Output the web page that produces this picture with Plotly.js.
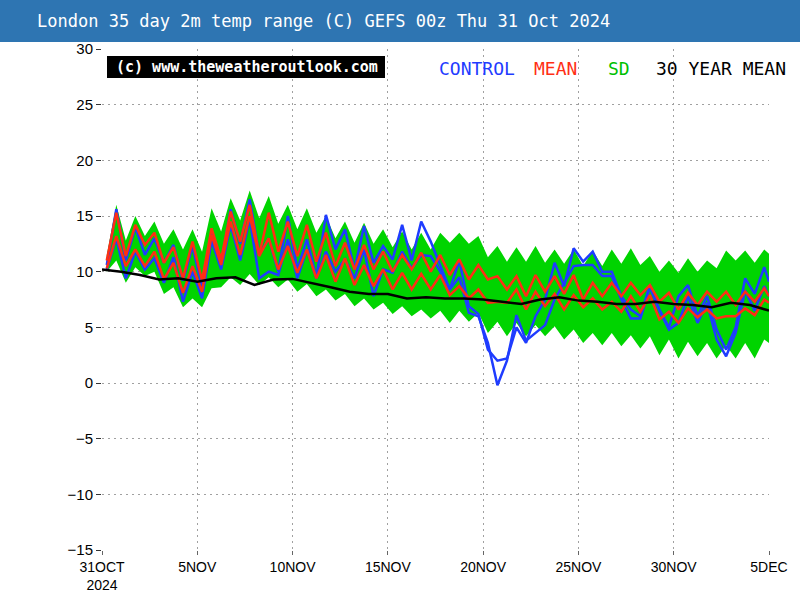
<!DOCTYPE html>
<html><head><meta charset="utf-8">
<script src="https://cdn.plot.ly/plotly-3.0.1.min.js"></script>
<style>html,body{margin:0;padding:0;background:#fff}#chart{width:800px;height:600px}</style>
</head><body><div id="chart"></div>
<script>
// forecast time (days after 00z 31 Oct 2024), 12-hourly
const times = [0.25,0.75,1.25,1.75,2.25,2.75,3.25,3.75,4.25,4.75,
  5.25,5.75,6.25,6.75,7.25,7.75,8.25,8.75,9.25,9.75,
  10.25,10.75,11.25,11.75,12.25,12.75,13.25,13.75,14.25,14.75,
  15.25,15.75,16.25,16.75,17.25,17.75,18.25,18.75,19.25,19.75,
  20.25,20.75,21.25,21.75,22.25,22.75,23.25,23.75,24.25,24.75,
  25.25,25.75,26.25,26.75,27.25,27.75,28.25,28.75,29.25,29.75,
  30.25,30.75,31.25,31.75,32.25,32.75,33.25,33.75,34.25,34.75,35];

// SD envelope (upper / lower edge of the green band)
const sdUpper = [11.5,16.0,12.8,15.0,13.2,14.5,12.5,13.8,12.0,13.8,
  11.8,15.7,13.6,16.6,14.6,17.3,14.8,16.8,14.3,16.0,
  13.8,15.7,13.5,15.0,13.0,14.5,12.6,14.4,12.5,13.8,
  12.2,13.6,12.0,13.5,12.0,13.5,12.6,13.5,12.5,13.2,
  11.3,12.3,10.9,12.2,10.9,12.3,10.8,12.0,10.7,12.0,
  10.5,11.9,10.5,12.0,10.7,12.1,10.6,11.4,10.0,11.0,
  9.9,11.2,10.0,11.0,10.3,11.9,11.0,11.9,10.8,12.0,11.6];
const sdLower = [10.0,11.0,9.0,10.4,9.6,10.0,8.0,8.6,6.8,7.6,
  6.8,8.5,8.6,9.5,8.8,9.8,8.8,9.5,8.6,9.3,
  8.2,8.9,7.8,8.4,7.4,8.0,6.9,7.6,6.6,7.2,
  6.2,6.9,6.0,6.6,5.8,6.5,5.4,6.5,5.5,6.3,
  4.5,5.5,4.2,5.4,4.2,5.2,4.2,5.1,3.9,4.8,
  3.6,4.5,3.4,4.5,3.3,4.3,3.1,4.2,2.5,3.9,
  2.2,3.7,2.4,3.6,2.2,3.4,2.2,3.6,2.2,3.9,3.6];

// control run (two blue lines)
const controlHigh = [10.6,15.6,11.0,14.0,11.5,13.0,10.8,12.4,9.2,12.3,
  8.6,13.6,10.6,15.6,12.5,16.5,11.5,13.0,10.0,15.0,
  10.2,12.9,9.5,15.1,12.0,13.8,10.2,14.1,10.8,12.3,
  11.1,14.2,11.0,14.5,12.7,10.5,8.4,11.0,6.9,6.2,
  3.0,2.0,2.2,5.0,3.6,6.0,7.5,10.8,8.7,12.1,
  10.9,11.8,10.0,10.0,7.8,6.6,6.0,8.8,6.6,5.0,
  7.8,8.8,6.0,7.8,4.8,3.0,5.0,9.4,8.0,10.4,9.1];
const controlLow = [10.2,13.0,9.4,11.8,10.2,11.2,9.0,11.3,7.3,10.0,
  7.6,12.8,10.2,14.2,11.0,14.7,9.4,10.0,9.7,12.9,
  9.4,12.0,9.4,11.8,10.0,11.1,9.4,12.0,7.8,10.2,
  9.9,11.8,10.3,11.5,11.4,10.0,8.4,9.5,6.3,6.0,
  3.6,-0.2,2.0,6.1,3.8,4.5,5.2,7.5,9.0,10.5,
  10.6,10.6,9.6,9.6,7.5,5.8,5.8,8.6,6.5,4.8,
  5.4,7.8,5.4,7.2,3.9,2.4,4.5,8.3,6.5,8.7,7.8];

// ensemble mean (two red lines)
const meanHigh = [11.0,15.3,11.4,14.2,12.4,13.5,10.8,12.2,9.4,12.7,
  9.2,13.9,11.1,15.4,12.7,16.0,11.5,15.3,11.8,14.5,
  11.4,14.2,10.9,13.5,10.5,12.6,10.2,12.4,10.2,11.8,
  10.0,11.5,10.2,11.7,10.0,11.5,9.7,11.1,9.3,10.6,
  9.3,9.6,8.4,9.6,7.8,9.7,8.2,9.6,8.0,9.7,
  7.5,9.0,7.8,9.0,7.8,9.0,7.9,8.8,7.3,8.1,
  6.6,8.1,7.0,8.2,7.3,8.2,7.0,8.2,7.3,8.5,7.8];
const meanLow = [10.3,13.2,10.5,12.0,10.5,11.8,9.3,10.8,8.1,10.5,
  8.2,13.3,10.6,14.5,11.5,15.0,11.4,13.0,10.2,12.3,
  9.9,12.0,9.4,11.5,9.1,11.2,8.8,10.6,8.7,10.2,
  8.4,9.9,8.4,9.8,8.4,9.7,7.9,8.7,7.6,8.4,
  7.2,7.3,7.2,8.4,6.6,8.2,6.9,8.0,6.6,7.9,
  6.8,7.6,6.6,7.3,6.4,7.8,6.4,7.9,5.7,6.4,
  5.4,6.7,5.9,6.6,5.8,6.0,6.0,6.7,6.1,7.5,7.2];

// 30 year mean, daily
const climDays = [0,1,2,3,4,5,6,7,8,9,10,11,12,13,14,15,16,17,18,19,20,21,22,23,24,25,26,27,28,29,30,31,32,33,34,35];
const climMean = [10.2,10.0,9.7,9.3,9.4,9.1,9.4,9.5,8.8,9.3,9.35,9.0,8.6,8.2,8.0,8.0,7.6,7.7,7.6,7.6,
  7.5,7.3,7.1,7.5,7.7,7.4,7.3,7.1,7.1,7.3,7.1,7.0,6.8,7.2,7.0,6.5];

const tickDays = [0,5,10,15,20,25,30,35];
const tickLabels = ['31OCT<br>2024','5NOV','10NOV','15NOV','20NOV','25NOV','30NOV','5DEC'];
const yTicks = [-15,-10,-5,0,5,10,15,20,25,30];

const BLUE = '#1f3cff', RED = '#ff2e14', GREEN = '#00d400', BLACK = '#000000';

const traces = [
  {x: times, y: sdLower, mode: 'lines', line: {width: 0, color: GREEN}, hoverinfo: 'skip'},
  {x: times, y: sdUpper, mode: 'lines', fill: 'tonexty', fillcolor: GREEN, line: {width: 0, color: GREEN}, hoverinfo: 'skip'},
  {x: times, y: controlHigh, mode: 'lines', line: {width: 2.5, color: BLUE}},
  {x: times, y: controlLow, mode: 'lines', line: {width: 2.5, color: BLUE}},
  {x: times, y: meanHigh, mode: 'lines', line: {width: 2.5, color: RED}},
  {x: times, y: meanLow, mode: 'lines', line: {width: 2.5, color: RED}},
  {x: climDays, y: climMean, mode: 'lines', line: {width: 2.5, color: BLACK}}
];

const xFont = {family: 'Liberation Sans, Arial, sans-serif', size: 14, color: '#000'};
const yFont = {family: 'Liberation Sans, Arial, sans-serif', size: 15, color: '#000'};
const legendFont = {family: 'DejaVu Sans Mono, monospace', size: 18};

const layout = {
  width: 800, height: 600,
  margin: {l: 102, r: 31, t: 49, b: 50},
  paper_bgcolor: '#ffffff', plot_bgcolor: '#ffffff',
  showlegend: false,
  title: {
    text: 'London 35 day 2m temp range (C) GEFS 00z Thu 31 Oct 2024',
    font: {family: 'DejaVu Sans Mono, monospace', size: 17, color: '#ffffff'},
    xref: 'container', yref: 'container', x: 37/800, xanchor: 'left', y: 1 - 21/600, yanchor: 'middle'
  },
  xaxis: {
    range: [0, 35], tickmode: 'array', tickvals: tickDays, ticktext: tickLabels,
    showgrid: true, gridcolor: '#a0a0a0', griddash: '2px,4px', gridwidth: 1,
    zeroline: false, showline: false, ticks: 'outside', ticklen: 4, tickcolor: '#666',
    tickfont: xFont, fixedrange: true
  },
  yaxis: {
    range: [-15, 30], tickmode: 'array', tickvals: yTicks,
    showgrid: true, gridcolor: '#a0a0a0', griddash: '2px,4px', gridwidth: 1,
    zeroline: false, showline: false, ticks: 'outside', ticklen: 5, tickcolor: '#333',
    tickfont: yFont, fixedrange: true
  },
  shapes: [
    {type: 'rect', xref: 'paper', yref: 'paper', x0: -0.2, x1: 1.1, y0: (550-42)/501, y1: 1.12,
     fillcolor: '#2e75b2', line: {width: 0}, layer: 'above'},
    {type: 'rect', xref: 'paper', yref: 'paper', x0: (107-102)/667, x1: (385-102)/667, y0: (550-78)/501, y1: (550-56)/501,
     fillcolor: '#000000', line: {width: 0}, layer: 'above'}
  ],
  annotations: [
    {text: '<b>(c) www.theweatheroutlook.com</b>', xref: 'paper', yref: 'paper', x: (247-102)/667, y: (550-67)/501,
     xanchor: 'center', yanchor: 'middle', showarrow: false,
     font: {family: 'DejaVu Sans Mono, monospace', size: 15, color: '#ffffff'}},
    {text: 'CONTROL', xref: 'paper', yref: 'paper', x: (437-102)/667, y: (550-69)/501, xanchor: 'left', yanchor: 'middle',
     showarrow: false, font: Object.assign({color: BLUE}, legendFont)},
    {text: 'MEAN', xref: 'paper', yref: 'paper', x: (532-102)/667, y: (550-69)/501, xanchor: 'left', yanchor: 'middle',
     showarrow: false, font: Object.assign({color: RED}, legendFont)},
    {text: 'SD', xref: 'paper', yref: 'paper', x: (606-102)/667, y: (550-69)/501, xanchor: 'left', yanchor: 'middle',
     showarrow: false, font: Object.assign({color: '#00c000'}, legendFont)},
    {text: '30 YEAR MEAN', xref: 'paper', yref: 'paper', x: (654-102)/667, y: (550-69)/501, xanchor: 'left', yanchor: 'middle',
     showarrow: false, font: Object.assign({color: BLACK}, legendFont)}
  ]
};

Plotly.newPlot('chart', traces, layout, {displayModeBar: false, staticPlot: true});
</script>
</body></html>
